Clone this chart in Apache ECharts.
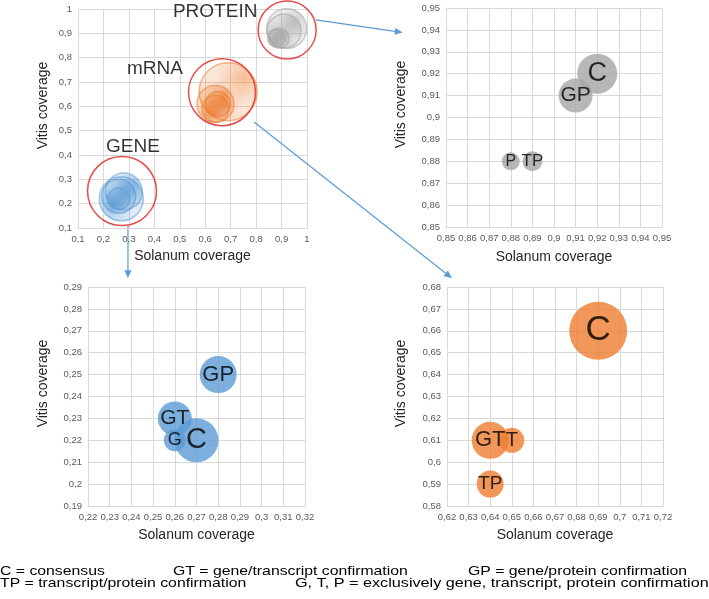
<!DOCTYPE html>
<html>
<head>
<meta charset="utf-8">
<script src="https://cdn.jsdelivr.net/npm/echarts@6/dist/echarts.min.js"></script>
<style>
  html, body { margin: 0; padding: 0; background: #fff; }
  #main { width: 709px; height: 599px; }
</style>
</head>
<body>
<div id="main"></div>
<script>
// --- data ---
// gene panel (bottom left)
const geneNames = ['GT', 'G', 'C', 'GP'];
const geneX = [0.26, 0.26, 0.27, 0.28];
const geneY = [0.23, 0.22, 0.22, 0.25];
const geneSize = [289, 121, 484, 342];

// mRNA panel (bottom right)
const mrnaNames = ['TP', 'GT', 'T', 'C'];
const mrnaX = [0.64, 0.64, 0.65, 0.69];
const mrnaY = [0.59, 0.61, 0.61, 0.66];
const mrnaSize = [182, 342, 156, 841];

// protein panel (top right)
const protNames = ['P', 'TP', 'GP', 'C'];
const protX = [0.88, 0.89, 0.91, 0.92];
const protY = [0.88, 0.88, 0.91, 0.92];
const protSize = [81, 100, 289, 400];

// group circles in the overview
const groupNames = ['GENE', 'mRNA', 'PROTEIN'];
const groupX = [0.273, 0.666, 0.922];
const groupY = [0.252, 0.658, 0.914];
const groupSize = [1190, 1120, 840];

// axis ranges per panel: [min, max, step]
const overviewRange = [0.1, 1, 0.1];
const protRange = [0.85, 0.95, 0.01];
const geneXRange = [0.22, 0.32, 0.01];
const geneYRange = [0.19, 0.29, 0.01];
const mrnaXRange = [0.62, 0.72, 0.01];
const mrnaYRange = [0.58, 0.68, 0.01];

const footnotes = [
  'C = consensus',
  'GT = gene/transcript confirmation',
  'GP = gene/protein confirmation',
  'TP = transcript/protein confirmation',
  'G, T, P = exclusively gene, transcript, protein confirmation'
];

const BLUE = '#5B9BD5', ORANGE = '#ED7D31', GREY = '#A5A5A5';
const FONT = '"Liberation Sans", Arial, sans-serif';

function rgba(hex, a) {
  const n = parseInt(hex.slice(1), 16);
  return 'rgba(' + (n >> 16) + ',' + ((n >> 8) & 255) + ',' + (n & 255) + ',' + a + ')';
}
function diam(v) { return 2 * Math.sqrt(v); }
function fmt(v) { return String(Math.round(v * 100) / 100).replace('.', ','); }

// diagonal hatch tile for the overview bubbles
function hatch(color) {
  const s = 4;
  const c = document.createElement('canvas');
  c.width = s; c.height = s;
  const ctx = c.getContext('2d');
  ctx.fillStyle = rgba(color, 0.22);
  ctx.fillRect(0, 0, s, s);
  ctx.strokeStyle = rgba(color, 0.55);
  ctx.lineWidth = 1;
  ctx.beginPath();
  ctx.moveTo(0, s); ctx.lineTo(s, 0);
  ctx.moveTo(-1, 1); ctx.lineTo(1, -1);
  ctx.moveTo(s - 1, s + 1); ctx.lineTo(s + 1, s - 1);
  ctx.stroke();
  return { image: c, repeat: 'repeat' };
}

function points(names, xs, ys, sizes) {
  return names.map((n, i) => {
    const d = diam(sizes[i]);
    return {
      name: n,
      value: [xs[i], ys[i], sizes[i]],
      label: { fontSize: Math.round(n.length === 1 ? 8 + 0.47 * d : 10 + 0.33 * d) }
    };
  });
}

function xAxis(idx, r, gap) {
  return {
    gridIndex: idx, type: 'value', min: r[0], max: r[1], interval: r[2],
    name: 'Solanum coverage', nameLocation: 'middle', nameGap: gap,
    nameTextStyle: { fontSize: 14, color: '#262626', fontFamily: FONT },
    axisLine: { lineStyle: { color: '#d9d9d9' } },
    axisTick: { show: false },
    splitLine: { lineStyle: { color: '#d9d9d9' } },
    axisLabel: { formatter: fmt, fontSize: 9.5, color: '#595959', fontFamily: FONT, margin: 6 }
  };
}
function yAxis(idx, r, gap) {
  return {
    gridIndex: idx, type: 'value', min: r[0], max: r[1], interval: r[2],
    name: 'Vitis coverage', nameLocation: 'middle', nameGap: gap,
    nameTextStyle: { fontSize: 14, color: '#262626', fontFamily: FONT, padding: [0, 0, 0, 26] },
    axisLine: { show: true, lineStyle: { color: '#d9d9d9' } },
    axisTick: { show: false },
    splitLine: { lineStyle: { color: '#d9d9d9' } },
    axisLabel: { formatter: fmt, fontSize: 9.5, color: '#595959', fontFamily: FONT, margin: 6 }
  };
}

function detailSeries(idx, names, xs, ys, sizes, color) {
  return {
    type: 'scatter', xAxisIndex: idx, yAxisIndex: idx,
    data: points(names, xs, ys, sizes),
    symbolSize: v => diam(v[2]),
    itemStyle: { color: color, opacity: 0.8 },
    label: { show: true, position: 'inside', formatter: p => p.name, color: '#000', fontFamily: FONT },
    emphasis: { disabled: true }
  };
}

function overviewSeries(names, xs, ys, sizes, color) {
  return {
    type: 'scatter', xAxisIndex: 0, yAxisIndex: 0,
    data: names.map((n, i) => [xs[i], ys[i], sizes[i]]),
    symbolSize: v => diam(v[2]),
    itemStyle: { color: hatch(color), borderColor: rgba(color, 0.7), borderWidth: 1.5 },
    emphasis: { disabled: true }
  };
}

const labelOffsets = [[11, -44], [-67, -23], [-72, -18]];

const option = {
  backgroundColor: '#fff',
  animation: false,
  grid: [
    { left: 78, top: 9, width: 229, height: 219 },
    { left: 446, top: 8, width: 216, height: 219 },
    { left: 88, top: 287, width: 217, height: 219 },
    { left: 447, top: 287, width: 216, height: 219 }
  ],
  xAxis: [
    xAxis(0, overviewRange, 21),
    xAxis(1, protRange, 23),
    xAxis(2, geneXRange, 22),
    xAxis(3, mrnaXRange, 22)
  ],
  yAxis: [
    yAxis(0, overviewRange, 28),
    yAxis(1, protRange, 38),
    yAxis(2, geneYRange, 38),
    yAxis(3, mrnaYRange, 39)
  ],
  series: [
    overviewSeries(geneNames, geneX, geneY, geneSize, BLUE),
    overviewSeries(mrnaNames, mrnaX, mrnaY, mrnaSize, ORANGE),
    overviewSeries(protNames, protX, protY, protSize, GREY),
    {
      type: 'scatter', xAxisIndex: 0, yAxisIndex: 0,
      data: groupNames.map((n, i) => ({
        name: n, value: [groupX[i], groupY[i], groupSize[i]],
        label: { offset: labelOffsets[i] }
      })),
      symbolSize: v => diam(v[2]),
      itemStyle: { color: 'rgba(0,0,0,0)', borderColor: '#E02020', borderWidth: 1.5 },
      label: { show: true, position: 'inside', formatter: p => p.name, fontSize: 19, color: '#000', fontFamily: FONT },
      emphasis: { disabled: true }
    },
    detailSeries(1, protNames, protX, protY, protSize, GREY),
    detailSeries(2, geneNames, geneX, geneY, geneSize, BLUE),
    detailSeries(3, mrnaNames, mrnaX, mrnaY, mrnaSize, ORANGE)
  ]
};

const chart = echarts.init(document.getElementById('main'), null, { renderer: 'canvas' });
chart.setOption(option);

// connector arrows, anchored in data coordinates of the panels they join
const arrows = [
  { from: [0, [1.035, 0.955]], to: [1, [0.830, 0.9388]] },
  { from: [0, [0.792, 0.5356]], to: [3, [0.6223, 0.684]] },
  { from: [0, [0.2965, 0.108]], to: [2, [0.2384, 0.294]] }
];
const graphics = [];
arrows.forEach(a => {
  const p0 = chart.convertToPixel({ gridIndex: a.from[0] }, a.from[1]);
  const p1 = chart.convertToPixel({ gridIndex: a.to[0] }, a.to[1]);
  const ang = Math.atan2(p1[1] - p0[1], p1[0] - p0[0]);
  const len = 8, w = 3.5;
  const bx = p1[0] - len * Math.cos(ang), by = p1[1] - len * Math.sin(ang);
  graphics.push({
    type: 'line', silent: true,
    shape: { x1: p0[0], y1: p0[1], x2: bx, y2: by },
    style: { stroke: BLUE, lineWidth: 1.2 }
  });
  graphics.push({
    type: 'polygon', silent: true,
    shape: { points: [
      [p1[0], p1[1]],
      [bx + w * Math.sin(ang), by - w * Math.cos(ang)],
      [bx - w * Math.sin(ang), by + w * Math.cos(ang)]
    ] },
    style: { fill: BLUE }
  });
});

// footnote legend
const notePos = [[0, 571], [173, 571], [468, 571], [0, 583], [295, 583]];
footnotes.forEach((t, i) => {
  graphics.push({
    type: 'text', x: notePos[i][0], y: notePos[i][1], scaleX: i === 4 ? 1.2 : 1.17, silent: true,
    style: { text: t, font: '13.5px ' + FONT, fill: '#000', textVerticalAlign: 'middle', verticalAlign: 'middle' }
  });
});
chart.setOption({ graphic: graphics });
</script>
</body>
</html>
